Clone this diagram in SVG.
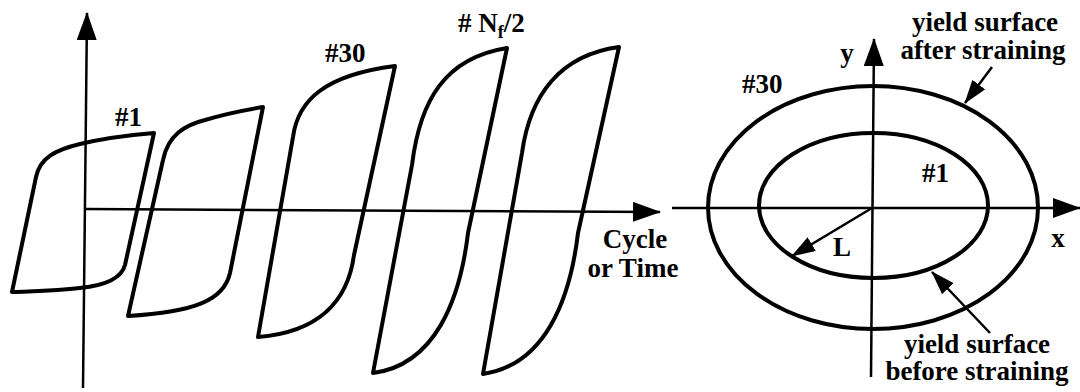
<svg xmlns="http://www.w3.org/2000/svg" width="1080" height="392" viewBox="0 0 1080 392">
<defs>
<style>
.ax{stroke:#000;stroke-width:2.5;fill:none}
.lp{stroke:#000;stroke-width:4;fill:none;stroke-linejoin:round}
.el{stroke:#000;stroke-width:4;fill:none}
.ar{stroke:#000;stroke-width:2.5;fill:none}
.t{font-family:"Liberation Serif","Times New Roman",serif;font-weight:bold;font-size:27px;fill:#000}
</style>
<marker id="axh" markerUnits="userSpaceOnUse" markerWidth="28" markerHeight="20" viewBox="0 0 28 20" refX="27" refY="10" orient="auto"><polygon points="0,0 28,10 0,20" fill="#000"/></marker>
<marker id="anh" markerUnits="userSpaceOnUse" markerWidth="24" markerHeight="16" viewBox="0 0 24 16" refX="23" refY="8" orient="auto"><polygon points="0,0 24,8 0,16" fill="#000"/></marker>
</defs>
<rect width="1080" height="392" fill="#fff"/>
<g id="left-axes">
<line class="ax" x1="83" y1="388" x2="87" y2="13" marker-end="url(#axh)"/>
<line class="ax" x1="86" y1="209" x2="660" y2="212" marker-end="url(#axh)"/>
</g>
<g id="loop-1"><path class="lp" d="M12,292 L36,177 C40,158 55,150 80,144 C105,138 130,135 154,133 L125,265 C121,280 100,286 80,288 C55,291 35,291 12,292 Z"/></g>
<g id="loop-2"><path class="lp" d="M128,316 L163,160 C168,135 185,125 205,120 C225,114 245,110 263,107 L230,273 C224,300 195,312 128,316 Z"/></g>
<g id="loop-3"><path class="lp" d="M258,337 L293,137 C298,100 325,75 395,66 L354,255 C348,300 320,332 258,337 Z"/></g>
<g id="loop-4"><path class="lp" d="M373,373 L412,165 C420,100 445,58 507,48 L468,233 C460,300 435,365 373,373 Z"/></g>
<g id="loop-5"><path class="lp" d="M483,374 L522,153 C530,95 560,55 619,47 L578,233 C570,300 545,365 483,374 Z"/></g>
<g id="left-labels">
<text class="t" x="115" y="126">#1</text>
<text class="t" x="325" y="62">#30</text>
<text class="t" x="458" y="32"># N<tspan font-size="18" dy="6">f</tspan><tspan dy="-6">/2</tspan></text>
<text class="t" x="635" y="248" text-anchor="middle">Cycle</text>
<text class="t" x="633" y="277" text-anchor="middle">or Time</text>
</g>
<g id="right-axes">
<line class="ax" x1="672" y1="208" x2="1080" y2="208" marker-end="url(#axh)"/>
<line class="ax" x1="871" y1="377" x2="874" y2="39" marker-end="url(#axh)"/>
</g>
<g id="surface-30"><ellipse class="el" cx="873" cy="207.5" rx="165" ry="121.5"/></g>
<g id="surface-1"><ellipse class="el" cx="873.5" cy="205.5" rx="114.5" ry="72.5"/></g>
<g id="connectors">
<line class="ar" x1="872" y1="208" x2="792" y2="256" marker-end="url(#anh)"/>
<line class="ar" x1="992" y1="67" x2="965" y2="103" marker-end="url(#anh)"/>
<line class="ar" x1="990" y1="333" x2="932" y2="272" marker-end="url(#anh)"/>
</g>
<g id="right-labels">
<text class="t" x="847" y="62" text-anchor="middle">y</text>
<text class="t" x="1058" y="247" text-anchor="middle">x</text>
<text class="t" x="742" y="93">#30</text>
<text class="t" x="922" y="182">#1</text>
<text class="t" x="842" y="256" text-anchor="middle">L</text>
<text class="t" x="985" y="31" text-anchor="middle">yield surface</text>
<text class="t" x="983" y="59" text-anchor="middle">after straining</text>
<text class="t" x="977" y="353" text-anchor="middle">yield surface</text>
<text class="t" x="977" y="380" text-anchor="middle">before straining</text>
</g>
</svg>
